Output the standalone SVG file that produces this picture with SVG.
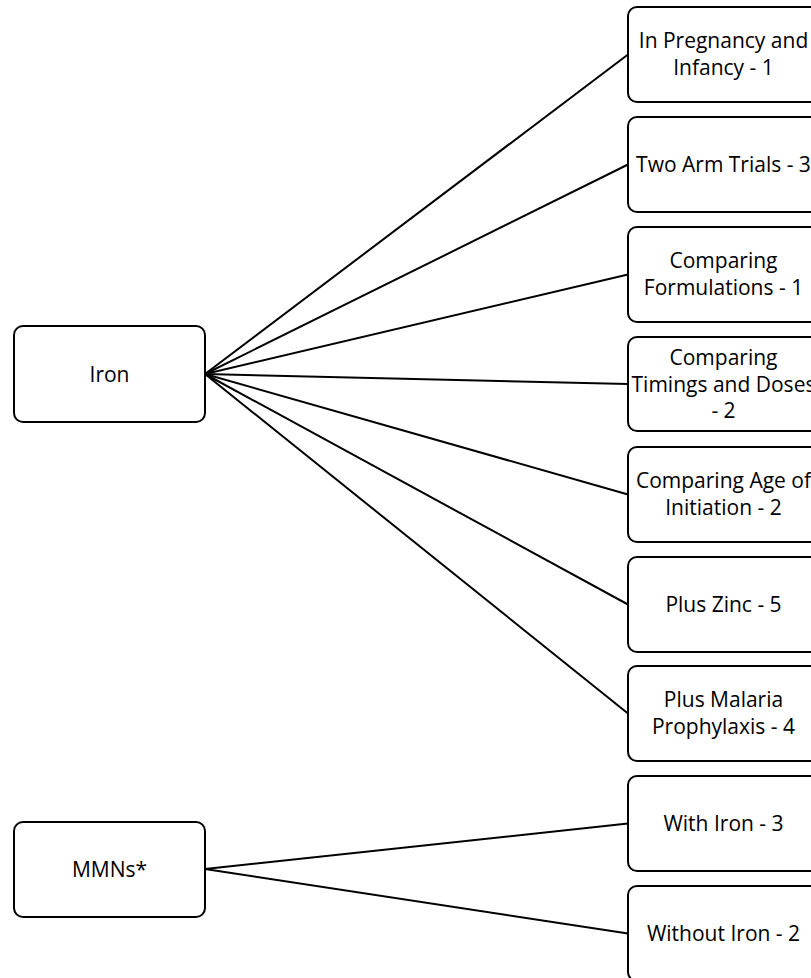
<svg xmlns="http://www.w3.org/2000/svg" width="811" height="978" viewBox="0 0 811 978">
<style>
.box{fill:#fff;stroke:#000;stroke-width:2}
.t{font-family:"Open Sans","Liberation Sans",sans-serif;font-size:21px;fill:#000;text-anchor:middle}
.c{stroke:#000;stroke-width:2;fill:none}
</style>
<rect width="811" height="978" fill="#fff"/>
<g id="connectors">
<line class="c" x1="205" y1="374" x2="628" y2="54.5"/>
<line class="c" x1="205" y1="374" x2="628" y2="164.5"/>
<line class="c" x1="205" y1="374" x2="628" y2="274.5"/>
<line class="c" x1="205" y1="374" x2="628" y2="384"/>
<line class="c" x1="205" y1="374" x2="628" y2="494.5"/>
<line class="c" x1="205" y1="374" x2="628" y2="604.5"/>
<line class="c" x1="205" y1="374" x2="628" y2="713.5"/>
<line class="c" x1="205" y1="869" x2="628" y2="823.5"/>
<line class="c" x1="205" y1="869" x2="628" y2="933.5"/>
</g>
<g id="iron"><rect class="box" x="14" y="326" width="191" height="96" rx="9"/><text class="t" x="109.5" y="382">Iron</text></g>
<g id="mmns"><rect class="box" x="14" y="822" width="191" height="95" rx="9"/><text class="t" x="109.5" y="877">MMNs*</text></g>
<g id="n1"><rect class="box" x="628" y="7" width="191" height="95" rx="9"/><text class="t" x="723.5" y="48">In Pregnancy and</text><text class="t" x="723.5" y="75">Infancy - 1</text></g>
<g id="n2"><rect class="box" x="628" y="117" width="191" height="95" rx="9"/><text class="t" x="723.5" y="172">Two Arm Trials - 3</text></g>
<g id="n3"><rect class="box" x="628" y="227" width="191" height="95" rx="9"/><text class="t" x="723.5" y="268">Comparing</text><text class="t" x="723.5" y="295">Formulations - 1</text></g>
<g id="n4"><rect class="box" x="628" y="337" width="191" height="94" rx="9"/><text class="t" x="723.5" y="365">Comparing</text><text class="t" x="723.5" y="392">Timings and Doses</text><text class="t" x="723.5" y="418">- 2</text></g>
<g id="n5"><rect class="box" x="628" y="447" width="191" height="95" rx="9"/><text class="t" x="723.5" y="488">Comparing Age of</text><text class="t" x="723.5" y="515">Initiation - 2</text></g>
<g id="n6"><rect class="box" x="628" y="557" width="191" height="95" rx="9"/><text class="t" x="723.5" y="612">Plus Zinc - 5</text></g>
<g id="n7"><rect class="box" x="628" y="666" width="191" height="95" rx="9"/><text class="t" x="723.5" y="707">Plus Malaria</text><text class="t" x="723.5" y="734">Prophylaxis - 4</text></g>
<g id="n8"><rect class="box" x="628" y="776" width="191" height="95" rx="9"/><text class="t" x="723.5" y="831">With Iron - 3</text></g>
<g id="n9"><rect class="box" x="628" y="886" width="191" height="95" rx="9"/><text class="t" x="723.5" y="941">Without Iron - 2</text></g>
</svg>
